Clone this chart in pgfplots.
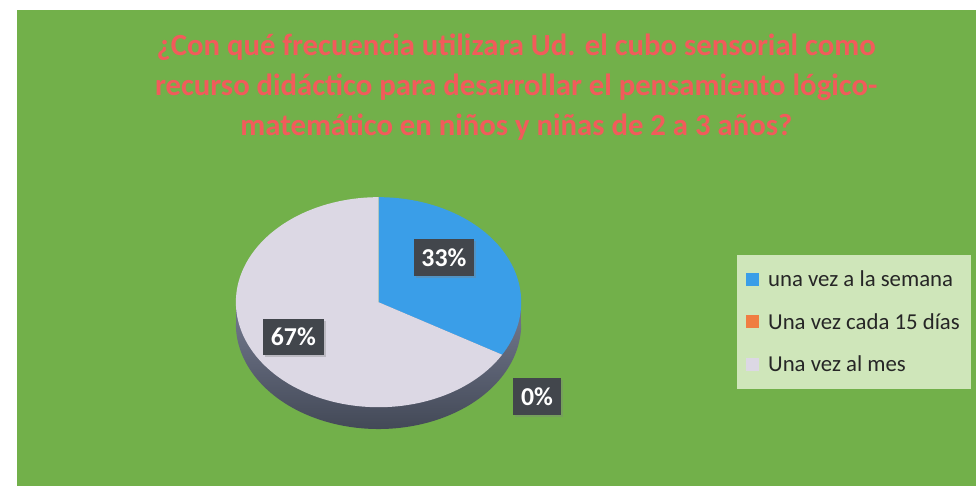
\documentclass[border=0pt]{standalone}
\usepackage{pgfplots}
\pgfplotsset{compat=1.18}
\usepackage{pgfplotstable}
\usetikzlibrary{shadows}
\usepackage{fontspec}
\setmainfont{Carlito}
\definecolor{bggreen}{HTML}{72B04A}
\definecolor{titlered}{HTML}{F25B5B}
\definecolor{bluepie}{HTML}{3A9EE8}
\definecolor{graypie}{HTML}{DCD8E4}
\definecolor{sidetop}{HTML}{6C7286}
\definecolor{sidebot}{HTML}{434957}
\definecolor{orangepie}{HTML}{F07D42}
\definecolor{legfill}{HTML}{CFE6BA}
\definecolor{labelbox}{HTML}{42464C}

\pgfplotstableread{
idx value
0 33.33
1 0
2 66.67
}\piedata

\begin{document}
\pgfplotstablegetelem{0}{value}\of\piedata
\pgfmathsetmacro\angA{90-3.6*\pgfplotsretval}
\pgfplotstablegetelem{1}{value}\of\piedata
\pgfmathsetmacro\angB{\angA-3.6*\pgfplotsretval}
\pgfplotstablegetelem{2}{value}\of\piedata
\pgfmathsetmacro\angC{\angB-3.6*\pgfplotsretval}
\def\cx{373}\def\cy{185}\def\rx{144}\def\ry{106}\def\dep{22}
\begin{tikzpicture}[x=1pt,y=1pt]
\useasboundingbox (0,0) rectangle (976,490);
\fill[white] (0,0) rectangle (976,490);
\fill[bggreen] (8,0) rectangle (976,480);
\begin{axis}[
  scale only axis, width=976pt, height=490pt,
  xmin=0, xmax=976, ymin=0, ymax=490,
  hide axis, clip=false,
  legend style={at={(axis cs:735,233)}, anchor=north west, draw=none, fill=legfill,
    font=\fontsize{23}{23}\selectfont, inner xsep=9pt, inner ysep=14pt, row sep=21.5pt,
    text=black!85, /tikz/every odd column/.append style={column sep=7pt}},
  legend cell align=left,
  legend image code/.code={\fill[#1, draw=none] (0pt,-6.5pt) rectangle (13pt,6.5pt);},
]
% side of the pie (3-D depth)
\addplot[top color=sidetop, bottom color=sidebot, draw=none, variable=\t, domain=180:360, samples=120, forget plot]
  ({\cx+\rx*cos(\t)},{\cy-\dep+\ry*sin(\t)}) -- cycle;
\addplot[fill=sidetop, draw=none, forget plot]
  coordinates {(\cx-\rx,\cy-\dep) (\cx+\rx,\cy-\dep) (\cx+\rx,\cy) (\cx-\rx,\cy)} -- cycle;
% top faces
\addplot[fill=bluepie, draw=none, variable=\t, domain=\angA:90, samples=60, forget plot]
  ({\cx+\rx*cos(\t)},{\cy+\ry*sin(\t)}) -- (axis cs:\cx,\cy) -- cycle;
\addplot[fill=graypie, draw=none, variable=\t, domain=\angC:\angB, samples=120, forget plot]
  ({\cx+\rx*cos(\t)},{\cy+\ry*sin(\t)}) -- (axis cs:\cx,\cy) -- cycle;
% legend
\addlegendimage{fill=bluepie}
\addlegendentry{una vez a la semana}
\addlegendimage{fill=orangepie}
\addlegendentry{Una vez cada 15 días}
\addlegendimage{fill=graypie}
\addlegendentry{Una vez al mes}
% labels
\tikzset{lab/.style={fill=labelbox, text=white, font=\bfseries\fontsize{26}{26}\selectfont,
  inner xsep=8pt, minimum height=37pt, drop shadow={opacity=0.35, shadow xshift=2pt, shadow yshift=-2pt}}}
\node[lab] at (axis cs:439,230) {33\%};
\node[lab] at (axis cs:287,150) {67\%};
\node[lab] at (axis cs:533,90) {0\%};
% title
\node[align=center, text=titlered, font=\bfseries\fontsize{31}{40}\selectfont] at (axis cs:512,402)
  {¿Con qué frecuencia utilizara Ud. el cubo sensorial como\\
   recurso didáctico para desarrollar el pensamiento lógico-\\
   matemático en niños y niñas de 2 a 3 años?};
\end{axis}
\end{tikzpicture}
\end{document}
